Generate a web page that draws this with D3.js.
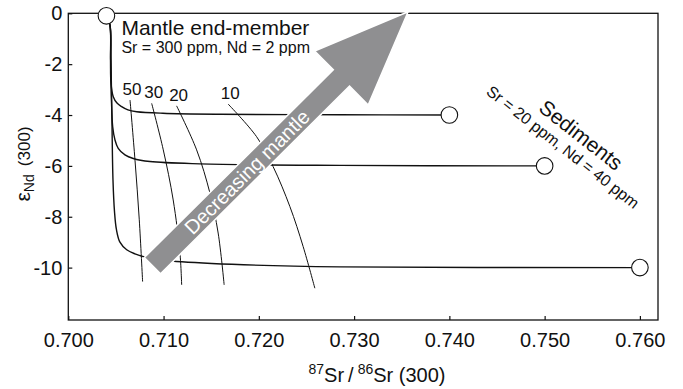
<!DOCTYPE html>
<html>
<head>
<meta charset="utf-8">
<script src="https://cdn.jsdelivr.net/npm/d3@7"></script>
<style>
  body { margin: 0; background: #fff; }
  text { font-family: "Liberation Sans", Arial, sans-serif; fill: #111; }
</style>
</head>
<body>
<div id="chart"></div>
<script>
// chart values
var xTicks = [0.700, 0.710, 0.720, 0.730, 0.740, 0.750, 0.760];
var yTicks = [0, -2, -4, -6, -8, -10];

var mantle = [0.7040, -0.1];
var sediments = [[0.740, -4], [0.750, -6], [0.760, -10]];

// mixing curves mantle -> sediment (87Sr/86Sr, eNd)
var curve4 = [[0.7040, -0.1], [0.70437, -0.46], [0.70443, -1.84], [0.70448, -2.74], [0.70472, -3.28],
  [0.70511, -3.53], [0.70560, -3.67], [0.70626, -3.80], [0.70718, -3.87], [0.70993, -3.93],
  [0.71591, -3.97], [0.72850, -3.99], [0.7400, -4.0]];
var curve6 = [[0.7040, -0.1], [0.70437, -0.46], [0.70445, -1.84], [0.70453, -3.41], [0.70466, -4.46],
  [0.70490, -4.98], [0.70524, -5.31], [0.70595, -5.57], [0.70682, -5.71], [0.70857, -5.83],
  [0.71382, -5.92], [0.72850, -5.98], [0.7500, -6.0]];
var curve10 = [[0.7040, -0.1], [0.70437, -0.46], [0.70448, -1.84], [0.70458, -4.19], [0.70469, -6.55],
  [0.70485, -7.80], [0.70505, -8.50], [0.70542, -9.00], [0.70613, -9.30], [0.70700, -9.46],
  [0.70822, -9.60], [0.71088, -9.74], [0.71717, -9.87], [0.72850, -9.97], [0.7600, -10.0]];

// percent mantle isopleths
var isoNames = ["50", "30", "20", "10"];
var iso50 = [[0.70648, -3.41], [0.70700, -5.77], [0.70745, -8.12], [0.70780, -10.55]];
var iso30 = [[0.70875, -3.54], [0.70997, -5.37], [0.71101, -7.34], [0.71172, -9.43], [0.71190, -10.68]];
var iso20 = [[0.71137, -3.64], [0.71347, -5.37], [0.71486, -7.06], [0.71573, -8.64], [0.71636, -10.68]];
var iso10 = [[0.71678, -3.57], [0.71976, -4.85], [0.72150, -6.03], [0.72326, -7.60], [0.72465, -9.17], [0.72588, -10.81]];

var arrowTail = [0.70883, -9.925];
var arrowTip = [0.73567, 0.06];

var svg_w = 683, svg_h = 389;
var margin = {top: 13.3, right: 25, bottom: 69, left: 68.3};

var svg = d3.select("#chart").append("svg")
    .attr("width", svg_w)
    .attr("height", svg_h);

var x = d3.scaleLinear().domain([0.700, 0.7619]).range([margin.left, svg_w - margin.right]);
var y = d3.scaleLinear().domain([0, -12.06]).range([margin.top, svg_h - margin.bottom]);

//axes, ticks pointing inward
var xAxis = svg.append("g")
    .attr("transform", "translate(0," + y.range()[1] + ")")
    .call(d3.axisBottom(x).tickValues(xTicks).tickFormat(d3.format(".3f"))
      .tickSizeInner(-4).tickSizeOuter(0).tickPadding(13));
var yAxis = svg.append("g")
    .attr("transform", "translate(" + x.range()[0] + ",0)")
    .call(d3.axisLeft(y).tickValues(yTicks).tickFormat(function(d) { return String(d); })
      .tickSizeInner(-4).tickSizeOuter(0).tickPadding(6));
[xAxis, yAxis].forEach(function(a) {
  a.select(".domain").remove();
  a.selectAll("line").attr("stroke", "#111").attr("stroke-width", 1.2);
  a.selectAll("text").attr("font-size", 20).attr("fill", "#111")
    .style("font-family", '"Liberation Sans", Arial, sans-serif');
});

//frame
svg.append("rect")
    .attr("x", x.range()[0]).attr("y", y.range()[0])
    .attr("width", x.range()[1] - x.range()[0])
    .attr("height", y.range()[1] - y.range()[0])
    .attr("fill", "none").attr("stroke", "#111").attr("stroke-width", 1.3);

var line = d3.line()
    .x(function(d) { return x(d[0]); })
    .y(function(d) { return y(d[1]); })
    .curve(d3.curveCatmullRom.alpha(0.5));

//mixing curves
svg.selectAll(".mix")
    .data([curve4, curve6, curve10])
    .enter().append("path")
    .attr("class", "mix")
    .attr("d", line)
    .attr("fill", "none").attr("stroke", "#111").attr("stroke-width", 1.4);

//isopleths
var isos = [iso50, iso30, iso20, iso10];
svg.selectAll(".iso")
    .data(isos)
    .enter().append("path")
    .attr("class", "iso")
    .attr("d", line)
    .attr("fill", "none").attr("stroke", "#111").attr("stroke-width", 1);

svg.selectAll(".isolabel")
    .data(isos)
    .enter().append("text")
    .attr("class", "isolabel")
    .attr("x", function(d) { return x(d[0][0]) + 2; })
    .attr("y", function(d) { return y(d[0][1]) - 5; })
    .attr("text-anchor", "middle")
    .attr("font-size", 17)
    .text(function(d, i) { return isoNames[i]; });

//big arrow
var t = [x(arrowTail[0]), y(arrowTail[1])];
var p = [x(arrowTip[0]), y(arrowTip[1])];
var dx = p[0] - t[0], dy = p[1] - t[1];
var L = Math.sqrt(dx * dx + dy * dy);
var u = [dx / L, dy / L], n = [-u[1], u[0]];
var shaftW = 23, headW = 76, headL = 94;
var b = [p[0] - u[0] * headL, p[1] - u[1] * headL];
function pt(o, k) { return [o[0] + n[0] * k, o[1] + n[1] * k]; }
var arrowPts = [pt(t, shaftW / 2), pt(b, shaftW / 2), pt(b, headW / 2), p,
                pt(b, -headW / 2), pt(b, -shaftW / 2), pt(t, -shaftW / 2)];
svg.append("path")
    .attr("d", "M" + arrowPts.map(function(q) { return q.join(","); }).join("L") + "Z")
    .attr("fill", "#8f8f91").attr("stroke", "#fff").attr("stroke-width", 1.5);

var ang = Math.atan2(dy, dx) * 180 / Math.PI;
var mid = [(t[0] + b[0]) / 2, (t[1] + b[1]) / 2];
svg.append("text")
    .attr("transform", "translate(" + mid[0] + "," + mid[1] + ") rotate(" + ang + ")")
    .attr("text-anchor", "middle")
    .attr("dy", "0.36em")
    .attr("font-size", 20)
    .style("fill", "#fff")
    .text("Decreasing mantle");

//end-member circles
svg.selectAll(".end")
    .data([mantle].concat(sediments))
    .enter().append("circle")
    .attr("class", "end")
    .attr("cx", function(d) { return x(d[0]); })
    .attr("cy", function(d) { return y(d[1]); })
    .attr("r", 8.3)
    .attr("fill", "#fff").attr("stroke", "#111").attr("stroke-width", 1.1);

//annotations
svg.append("text")
    .attr("x", x(mantle[0]) + 15).attr("y", 35)
    .attr("font-size", 21)
    .text("Mantle end-member");
svg.append("text")
    .attr("x", x(mantle[0]) + 15).attr("y", 53)
    .attr("font-size", 16)
    .text("Sr = 300 ppm, Nd = 2 ppm");

svg.append("text")
    .attr("transform", "translate(581,135) rotate(38)")
    .attr("text-anchor", "middle").attr("dy", "0.35em")
    .attr("font-size", 21)
    .text("Sediments");
svg.append("text")
    .attr("transform", "translate(563,147) rotate(38)")
    .attr("text-anchor", "middle").attr("dy", "0.35em")
    .attr("font-size", 16)
    .text("Sr = 20 ppm, Nd = 40 ppm");

//axis labels
var xl = svg.append("text")
    .attr("x", 377).attr("y", 382)
    .attr("text-anchor", "middle")
    .attr("font-size", 20);
xl.append("tspan").attr("font-size", 14).attr("dy", -8).text("87");
xl.append("tspan").attr("dy", 8).text("Sr\u2009/\u2009");
xl.append("tspan").attr("font-size", 14).attr("dy", -8).text("86");
xl.append("tspan").attr("dy", 8).text("Sr (300)");

var yl = svg.append("text")
    .attr("transform", "translate(30,164) rotate(-90)")
    .attr("text-anchor", "middle")
    .attr("font-size", 17);
yl.append("tspan").attr("font-size", 21).text("\u03b5");
yl.append("tspan").attr("font-size", 14).attr("dy", 4).text("Nd");
yl.append("tspan").attr("dy", -4).text("\u2009 (300)");
</script>
</body>
</html>
